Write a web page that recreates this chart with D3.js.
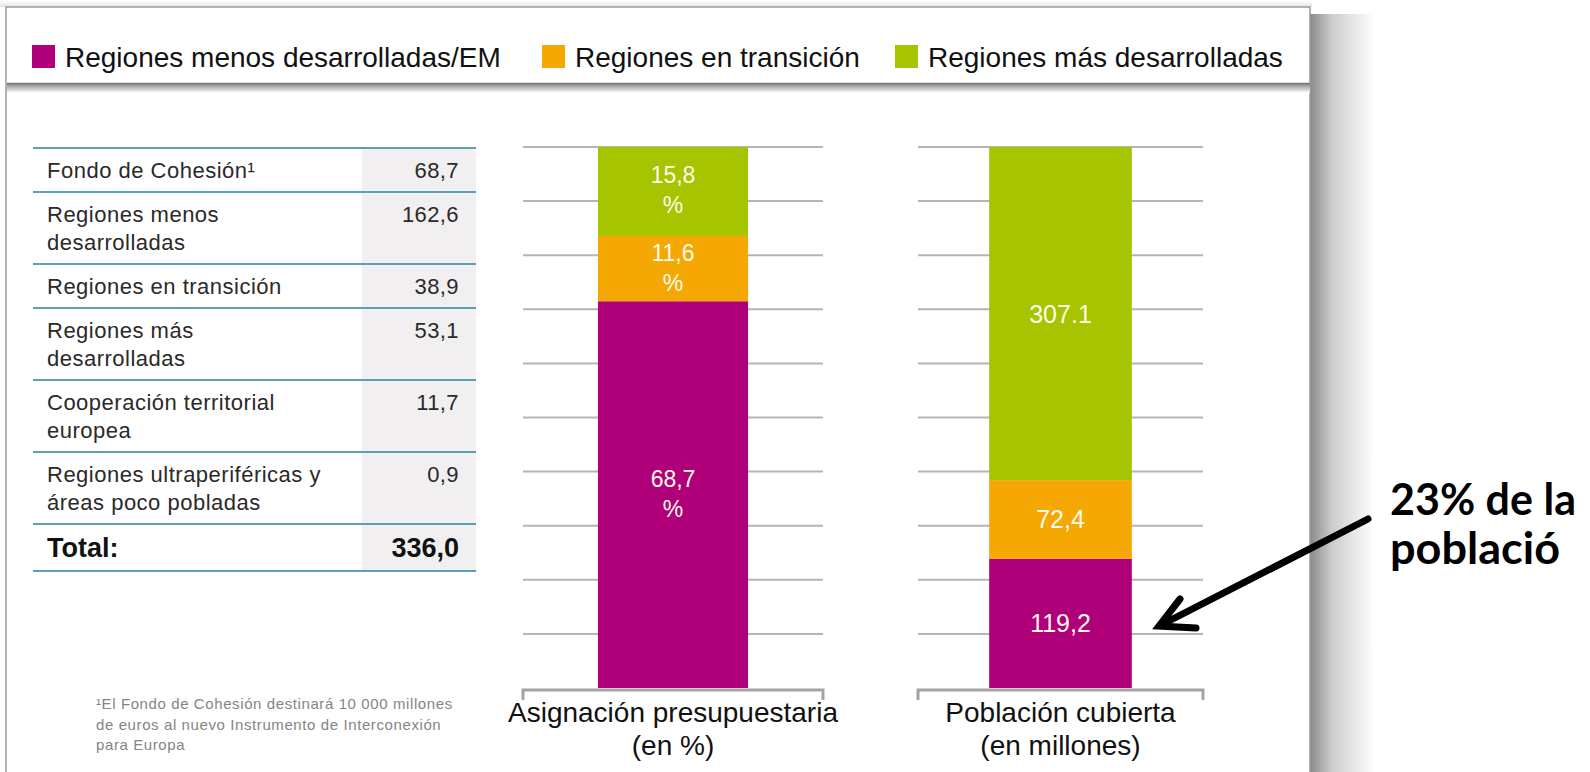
<!DOCTYPE html>
<html>
<head>
<meta charset="utf-8">
<script src="https://cdn.jsdelivr.net/npm/d3@7"></script>
<style>
  body { margin: 0; background: #fff; }
  svg { display: block; font-family: "Liberation Sans", Arial, sans-serif; }
</style>
</head>
<body>
<div id="chart"></div>
<script>
// series (stack order bottom -> top)
var categories = ["Regiones menos desarrolladas/EM", "Regiones en transición", "Regiones más desarrolladas"];
var colors = ["#af0079", "#f5a704", "#a6c400"];
var budgetShare = [68.7, 11.6, 15.8];
var budgetLabels = ["68,7", "11,6", "15,8"];
var population = [119.2, 72.4, 307.1];
var populationLabels = ["119,2", "72,4", "307.1"];

// table on the left
var tableItems = [
    ["Fondo de Cohesión¹"],
    ["Regiones menos", "desarrolladas"],
    ["Regiones en transición"],
    ["Regiones más", "desarrolladas"],
    ["Cooperación territorial", "europea"],
    ["Regiones ultraperiféricas y", "áreas poco pobladas"]
];
var tableValues = ["68,7", "162,6", "38,9", "53,1", "11,7", "0,9"];
var tableTotal = ["Total:", "336,0"];

var footnote = [
    "¹El Fondo de Cohesión destinará 10 000 millones",
    "de euros al nuevo Instrumento de Interconexión",
    "para Europa"
];
var annotation = ["23% de la", "població"];

var width = 1590, height = 772;

var svg = d3.select("#chart")
    .append("svg")
    .attr("width", width)
    .attr("height", height);

var defs = svg.append("defs");

var gR = defs.append("linearGradient").attr("id", "shadowR")
    .attr("x1", 0).attr("x2", 1).attr("y1", 0).attr("y2", 0);
gR.append("stop").attr("offset", 0).attr("stop-color", "#8a8a8a");
gR.append("stop").attr("offset", 0.35).attr("stop-color", "#cdcdcd");
gR.append("stop").attr("offset", 1).attr("stop-color", "#ffffff");

var gH = defs.append("linearGradient").attr("id", "shadowH")
    .attr("x1", 0).attr("x2", 0).attr("y1", 0).attr("y2", 1);
gH.append("stop").attr("offset", 0).attr("stop-color", "#8a8a8a");
gH.append("stop").attr("offset", 1).attr("stop-color", "#ffffff");

var gT = defs.append("linearGradient").attr("id", "shadowT")
    .attr("x1", 0).attr("x2", 0).attr("y1", 0).attr("y2", 1);
gT.append("stop").attr("offset", 0).attr("stop-color", "#ffffff");
gT.append("stop").attr("offset", 1).attr("stop-color", "#e6e6e6");

// panel + shadows
svg.append("rect")
    .attr("x", 0).attr("y", 0).attr("width", 1312).attr("height", 7)
    .attr("fill", "url(#shadowT)");
svg.append("rect")
    .attr("x", 1310).attr("y", 14).attr("width", 64).attr("height", height)
    .attr("fill", "url(#shadowR)");
svg.append("rect")
    .attr("x", 6).attr("y", 7).attr("width", 1304).attr("height", 800)
    .attr("fill", "#fff")
    .attr("stroke", "#9a9a9a")
    .attr("stroke-width", 1.5);

// header
svg.append("rect")
    .attr("x", 7).attr("y", 84).attr("width", 1303).attr("height", 9)
    .attr("fill", "url(#shadowH)");
svg.append("line")
    .attr("x1", 7).attr("x2", 1310).attr("y1", 83.5).attr("y2", 83.5)
    .attr("stroke", "#777").attr("stroke-width", 1.5);

var legendX = [32, 542, 895];
var legend = svg.selectAll(".legend")
    .data(categories)
    .enter()
    .append("g")
    .attr("class", "legend")
    .attr("transform", function(d, i) { return "translate(" + legendX[i] + ",45)"; });

legend.append("rect")
    .attr("width", 23).attr("height", 23)
    .attr("fill", function(d, i) { return colors[i]; });

legend.append("text")
    .attr("x", 33).attr("y", 22)
    .attr("font-size", "28px")
    .attr("fill", "#111")
    .text(function(d) { return d; });

// table
var tableX0 = 33, tableX1 = 476, valX0 = 362;
var rowTops = [];
var rowY = 148;
tableItems.forEach(function(lines) {
    rowTops.push(rowY);
    rowY += 44 + 28 * (lines.length - 1);
});
var totalTop = rowY, tableBottom = rowY + 47;

svg.append("rect")
    .attr("x", valX0).attr("y", 148)
    .attr("width", tableX1 - valX0).attr("height", tableBottom - 148)
    .attr("fill", "#f1eff0");

svg.selectAll(".rowline")
    .data(rowTops.concat([totalTop, tableBottom]))
    .enter()
    .append("line")
    .attr("class", "rowline")
    .attr("x1", tableX0).attr("x2", tableX1)
    .attr("y1", function(d) { return d; })
    .attr("y2", function(d) { return d; })
    .attr("stroke", "#5aa0b8")
    .attr("stroke-width", 2);

var row = svg.selectAll(".row")
    .data(tableItems)
    .enter()
    .append("g")
    .attr("class", "row")
    .attr("transform", function(d, i) { return "translate(0," + rowTops[i] + ")"; });

row.selectAll("text")
    .data(function(d) { return d; })
    .enter()
    .append("text")
    .attr("x", 47)
    .attr("y", function(d, j) { return 30 + 28 * j; })
    .attr("font-size", "22px")
    .attr("letter-spacing", "0.5px")
    .attr("fill", "#2a2a2a")
    .text(function(d) { return d; });

row.append("text")
    .attr("x", 459).attr("y", 30)
    .attr("text-anchor", "end")
    .attr("font-size", "22px")
    .attr("letter-spacing", "0.4px")
    .attr("fill", "#2a2a2a")
    .text(function(d, i) { return tableValues[i]; });

svg.append("text")
    .attr("x", 47).attr("y", totalTop + 33)
    .attr("font-size", "27px").attr("font-weight", "bold")
    .attr("fill", "#111")
    .text(tableTotal[0]);
svg.append("text")
    .attr("x", 459).attr("y", totalTop + 33)
    .attr("text-anchor", "end")
    .attr("font-size", "27px").attr("font-weight", "bold")
    .attr("fill", "#111")
    .text(tableTotal[1]);

// footnote
svg.append("g").selectAll("text")
    .data(footnote)
    .enter()
    .append("text")
    .attr("x", 96)
    .attr("y", function(d, i) { return 709 + 20.5 * i; })
    .attr("font-size", "15px")
    .attr("letter-spacing", "0.6px")
    .attr("fill", "#858585")
    .text(function(d) { return d; });

// stacked bars
var charts = [
    { values: budgetShare, labels: budgetLabels, unit: "%", title: ["Asignación presupuestaria", "(en %)"], x0: 522, x1: 824, fs: 23 },
    { values: population, labels: populationLabels, unit: null, title: ["Población cubierta", "(en millones)"], x0: 917, x1: 1204, fs: 25 }
];

var baseY = 688, topY = 147;
var grid = d3.scaleLinear().domain([0, 10]).range([baseY, topY]);

charts.forEach(function(c) {
    var g = svg.append("g");
    var row0 = {};
    categories.forEach(function(k, i) { row0[k] = c.values[i]; });
    var series = d3.stack().keys(categories)([row0]);

    var x = d3.scaleBand()
        .domain([c.title[0]])
        .range([c.x0, c.x1])
        .paddingInner(0.336)
        .paddingOuter(0.336);
    var y = d3.scaleLinear()
        .domain([0, d3.sum(c.values)])
        .range([baseY, topY]);

    g.selectAll(".grid")
        .data(d3.range(1, 11))
        .enter()
        .append("line")
        .attr("x1", c.x0 + 1).attr("x2", c.x1 - 1)
        .attr("y1", function(d) { return grid(d); })
        .attr("y2", function(d) { return grid(d); })
        .attr("stroke", "#b5b5b5")
        .attr("stroke-width", 2);

    g.selectAll(".seg")
        .data(series)
        .enter()
        .append("rect")
        .attr("x", x(c.title[0]))
        .attr("width", x.bandwidth())
        .attr("y", function(d) { return y(d[0][1]); })
        .attr("height", function(d) { return y(d[0][0]) - y(d[0][1]); })
        .attr("fill", function(d, i) { return colors[i]; });

    var lab = g.selectAll(".lab")
        .data(series)
        .enter()
        .append("text")
        .attr("text-anchor", "middle")
        .attr("font-size", c.fs + "px")
        .attr("fill", "#fffbea")
        .attr("transform", function(d) {
            var cy = (y(d[0][0]) + y(d[0][1])) / 2;
            return "translate(" + (x(c.title[0]) + x.bandwidth() / 2) + "," + cy + ")";
        });
    lab.append("tspan")
        .attr("x", 0)
        .attr("y", c.unit ? -8 : 9)
        .text(function(d, i) { return c.labels[i]; });
    if (c.unit) {
        lab.append("tspan")
            .attr("x", 0).attr("y", 22)
            .text(c.unit);
    }

    g.append("path")
        .attr("d", "M" + (c.x0 + 1) + ",700V690H" + (c.x1 - 1) + "V700")
        .attr("fill", "none")
        .attr("stroke", "#a3a3a3")
        .attr("stroke-width", 3);

    g.selectAll(".title")
        .data(c.title)
        .enter()
        .append("text")
        .attr("x", (c.x0 + c.x1) / 2)
        .attr("y", function(d, i) { return 722 + 33 * i; })
        .attr("text-anchor", "middle")
        .attr("font-size", "28px")
        .attr("fill", "#111")
        .text(function(d) { return d; });
});

// annotation
svg.append("rect")
    .attr("x", 1372).attr("y", 452).attr("width", 218).attr("height", 195)
    .attr("fill", "#fff");

svg.append("g").selectAll("text")
    .data(annotation)
    .enter()
    .append("text")
    .attr("x", 1390)
    .attr("y", function(d, i) { return 515 + 49 * i; })
    .attr("font-family", "Lato, 'Open Sans', sans-serif")
    .attr("font-weight", "bold")
    .attr("font-size", "44px")
    .attr("fill", "#000")
    .attr("textLength", function(d, i) { return i ? 170 : 186; })
    .attr("lengthAdjust", "spacingAndGlyphs")
    .text(function(d) { return d; });

svg.append("path")
    .attr("d", "M1368,519L1163,624")
    .attr("stroke", "#000").attr("stroke-width", 7)
    .attr("stroke-linecap", "round");
svg.append("path")
    .attr("d", "M1180,599L1159,626L1196,628")
    .attr("fill", "none")
    .attr("stroke", "#000").attr("stroke-width", 7)
    .attr("stroke-linejoin", "miter")
    .attr("stroke-linecap", "round");
</script>
</body>
</html>
